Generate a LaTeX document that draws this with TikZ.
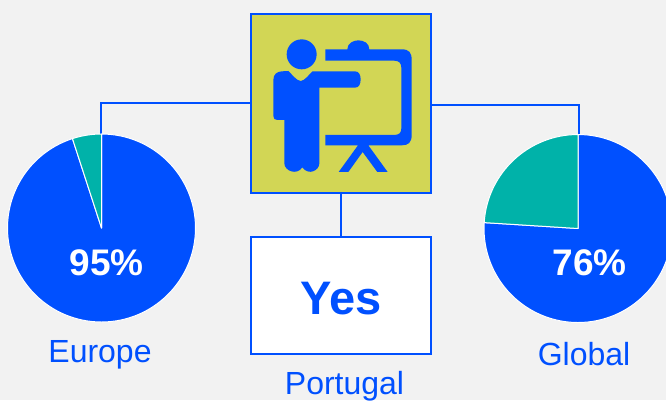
\documentclass[tikz,border=0pt]{standalone}
\usepackage{fontspec}
\setmainfont{Liberation Sans}
\definecolor{bgc}{HTML}{F2F2F2}
\definecolor{bluec}{HTML}{0050FF}
\definecolor{tealc}{HTML}{00B2A9}
\definecolor{olivec}{HTML}{D2D655}
\tikzset{
  panel/.style={draw=bluec,line width=2pt,inner sep=0pt,minimum width=180pt},
  link/.style={draw=bluec,line width=1.8pt},
  slice/.style={draw=white,line width=1pt,line join=round},
  caption/.style={anchor=base,text=bluec,font=\fontsize{32}{36}\selectfont,inner sep=0pt},
  pct/.style={anchor=base,text=white,font=\fontsize{37}{42}\selectfont\bfseries,inner sep=0pt}
}
\begin{document}
\begin{tikzpicture}[x=1pt,y=-1pt]
\useasboundingbox (0,0) rectangle (666,400);
\clip (0,0) rectangle (666,400);
\fill[bgc] (0,0) rectangle (666,400);
% positions
\node[panel,fill=olivec,minimum height=179pt] (iconbox) at (341,103.5) {};
\node[panel,fill=white,minimum height=117pt] (portugalbox) at (341,295.5) {};
\coordinate (europetop) at (101,134);
\coordinate (globaltop) at (579,134);
% connectors
\draw[link] ([yshift=0.5pt]iconbox.west) -| (europetop);
\draw[link] ([yshift=-1.5pt]iconbox.east) -| (globaltop);
\draw[link] (iconbox.south) -- (portugalbox.north);
% icon
\begin{scope}[shift={(240,0)},x=0.3333pt,y=-0.3333pt]
\fill[bluec] (185,163) circle [radius=45];
\fill[bluec] (100,240) .. controls (100,222) and (112,215) .. (125,214)
  -- (145,213) .. controls (155,222) and (170,243) .. (182,243)
  .. controls (194,243) and (208,222) .. (218,214) -- (345,214)
  .. controls (357,214) and (362,225) .. (362,238)
  .. controls (362,252) and (357,263) .. (345,263) -- (238,263) -- (238,490)
  .. controls (238,512) and (205,528) .. (187,502)
  .. controls (170,528) and (133,512) .. (133,490) -- (133,360) -- (112,360)
  .. controls (104,360) and (100,356) .. (100,348) -- cycle;
\fill[bluec] (256,148) -- (322,148) .. controls (322,130) and (340,121) .. (355,121)
  .. controls (372,121) and (388,130) .. (388,148)
  -- (485,148) .. controls (508,148) and (515,158) .. (515,180) -- (515,405)
  .. controls (515,428) and (505,436) .. (485,436) -- (385,436) -- (443,516) -- (412,516)
  -- (368,456) -- (325,516) -- (296,516) -- (354,436) -- (256,436) -- (256,405)
  -- (462,405) .. controls (478,405) and (484,398) .. (484,385) -- (484,203)
  .. controls (484,190) and (478,182) .. (462,182) -- (256,182) -- cycle;
\end{scope}
% left pie
\begin{scope}[shift={(101.5,228)},y=1pt]
\filldraw[slice,fill=bluec] (0,0) -- (0,94) arc[start angle=90,end angle=-252,radius=94] -- cycle;
\filldraw[slice,fill=tealc] (0,0) -- (0,94) arc[start angle=90,end angle=108,radius=94] -- cycle;
\end{scope}
% right pie
\begin{scope}[shift={(578,228.5)},y=1pt]
\filldraw[slice,fill=bluec] (0,0) -- (0,94) arc[start angle=90,end angle=-183.6,radius=94] -- cycle;
\filldraw[slice,fill=tealc] (0,0) -- (0,94) arc[start angle=90,end angle=176.4,radius=94] -- cycle;
\end{scope}
% labels
\node[pct] (europepct) at (106.5,275) {95\%};
\node[pct] (globalpct) at (589.5,275) {76\%};
\node[anchor=base,text=bluec,font=\fontsize{47}{50}\selectfont\bfseries,inner sep=0pt] (yes) at (341.5,314) {Yes};
\node[caption] (europe) at (100,362) {Europe};
\node[caption] (portugal) at (344.5,394) {Portugal};
\node[caption] (global) at (584,365) {Global};
\end{tikzpicture}
\end{document}
